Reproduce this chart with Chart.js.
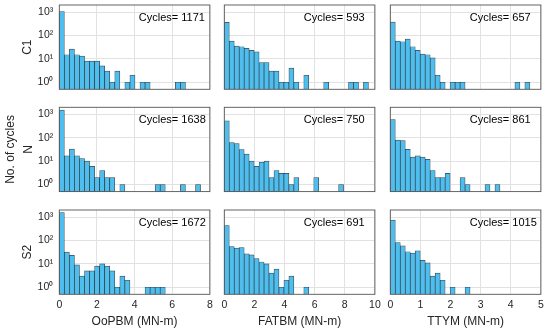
<!DOCTYPE html>
<html><head><meta charset="utf-8">
<script src="https://cdn.jsdelivr.net/npm/chart.js@4.4.1/dist/chart.umd.min.js"></script>
<style>
html,body{margin:0;padding:0;background:#fff;}
#wrap{position:relative;width:550px;height:333px;overflow:hidden;}
#wrap canvas{position:absolute;left:0;top:0;}
</style></head><body><div id="wrap"></div>
<script>
// ---- data ----
const rowNames = ['C1', ['No. of cycles', 'N'], 'S2'];
const colNames = ['OoPBM (MN-m)', 'FATBM (MN-m)', 'TTYM (MN-m)'];
const xMax = [8, 10, 5];
const xStep = [2, 2, 1];
const binWidth = [0.268, 0.33, 0.1655];
const cycles = [[1171, 593, 657], [1638, 750, 861], [1672, 691, 1015]];
const yTickValues = [1, 10, 100, 1000];
const yTickLabels = ['10\u2070', '10\u00B9', '10\u00B2', '10\u00B3'];

const countsC1_OoPBM = [1059,15,26,15,13,8,8,8,5,3,1,3,0,1,2,0,1,1,0,0,0,0,0,1,1];
const countsC1_FATBM = [364,57,35,33,28,23,20,7,7,3,3,1,1,4,1,0,2,0,0,0,1,0,0,0,0,1,1,0,1];
const countsC1_TTYM  = [370,57,54,70,33,23,16,15,11,2,1,0,1,1,1,0,0,0,0,0,0,0,0,0,0,1,0,1];
const countsN_OoPBM  = [1527,17,33,17,13,10,6,2,4,2,2,0,1,0,0,0,0,0,0,1,1,0,0,0,1,0,0,1];
const countsN_FATBM  = [528,62,56,31,20,10,6,9,10,2,4,3,3,1,2,0,0,0,2,0,0,0,0,1];
const countsN_TTYM   = [599,80,75,32,15,17,15,12,4,2,2,3,0,0,2,1,0,0,0,1,0,1];
const countsS2_OoPBM = [1554,32,23,9,3,5,5,8,10,8,5,1,3,2,0,0,0,1,1,1,1];
const countsS2_FATBM = [432,55,47,50,27,24,17,12,10,4,6,1,2,3,0,0,1];
const countsS2_TTYM  = [740,82,59,33,29,36,14,11,3,4,2,0,1,0,0,1];

const counts = [
  [countsC1_OoPBM, countsC1_FATBM, countsC1_TTYM],
  [countsN_OoPBM, countsN_FATBM, countsN_TTYM],
  [countsS2_OoPBM, countsS2_FATBM, countsS2_TTYM]
];

// ---- layout ----
const PAGE_W = 550, PAGE_H = 333;
const plotLeft = [59.3, 224.3, 390.3];
const plotWidth = 150.6;
const plotTop = [5, 107.3, 210];
const plotHeight = 84.3;

Chart.defaults.font.family = "'Liberation Sans', Arial, Helvetica, sans-serif";
Chart.defaults.color = '#262626';

const boxPlugin = {
  id: 'box',
  afterDraw(chart) {
    const {ctx, chartArea: a} = chart;
    ctx.save();
    ctx.strokeStyle = '#555555';
    ctx.lineWidth = 0.9;
    ctx.strokeRect(a.left, a.top, a.right - a.left, a.bottom - a.top);
    ctx.restore();
  }
};
const cyclesPlugin = {
  id: 'cyc',
  afterDraw(chart, args, opts) {
    const {ctx, chartArea: a} = chart;
    ctx.save();
    ctx.font = "11px 'Liberation Sans', Arial, sans-serif";
    ctx.fillStyle = '#000';
    ctx.textAlign = 'left';
    ctx.textBaseline = 'middle';
    ctx.fillText('Cycles= ' + opts.n, a.left + 79.5, a.top + 12.5);
    ctx.restore();
  }
};

const wrap = document.getElementById('wrap');
for (let r = 0; r < 3; r++) {
  for (let c = 0; c < 3; c++) {
    const cv = document.createElement('canvas');
    cv.width = PAGE_W; cv.height = PAGE_H;
    cv.style.width = PAGE_W + 'px'; cv.style.height = PAGE_H + 'px';
    wrap.appendChild(cv);
    const yW = c === 0 ? plotLeft[0] : 0;
    const xH = r === 2 ? PAGE_H - (plotTop[2] + plotHeight) : 0;
    const bw = binWidth[c];
    const pts = counts[r][c].map((v, i) => ({x: (i + 0.5) * bw, y: v > 0 ? v : null}));
    new Chart(cv, {
      type: 'bar',
      data: {datasets: [{
        data: pts,
        backgroundColor: 'rgb(77,190,238)',
        borderColor: 'rgba(25,35,45,0.85)',
        borderWidth: 0.7,
        borderSkipped: false,
        barPercentage: 1,
        categoryPercentage: 1,
        grouped: false
      }]},
      options: {
        responsive: false,
        animation: false,
        devicePixelRatio: 1,
        layout: {padding: {
          left: plotLeft[c] - yW,
          right: PAGE_W - (plotLeft[c] + plotWidth),
          top: plotTop[r],
          bottom: PAGE_H - (plotTop[r] + plotHeight) - xH
        }},
        plugins: {legend: {display: false}, tooltip: {enabled: false}, cyc: {n: cycles[r][c]}},
        scales: {
          x: {
            type: 'linear', min: 0, max: xMax[c], offset: false,
            ticks: {stepSize: xStep[c], display: r === 2, padding: 5, maxRotation: 0, autoSkip: false,
              font: {size: 10.5}, color: '#262626'},
            grid: {offset: false, color: '#e2e2e2', lineWidth: 1, drawTicks: false},
            border: {display: false},
            title: {display: r === 2, text: colNames[c], font: {size: 12}, color: '#262626',
              padding: {top: 0, bottom: 4}},
            afterFit: s => { s.height = xH; s.paddingLeft = 0; s.paddingRight = 0; s.paddingTop = 0; s.paddingBottom = 0; }
          },
          y: {
            type: 'logarithmic', min: 0.5, max: 2000,
            afterBuildTicks: s => { s.ticks = yTickValues.map(v => ({value: v, major: false})); },
            ticks: {display: c === 0, padding: 6, font: {size: 10.5}, color: '#262626',
              callback: v => yTickLabels[yTickValues.indexOf(v)]},
            grid: {color: '#e2e2e2', lineWidth: 1, drawTicks: false},
            border: {display: false},
            title: {display: c === 0, text: rowNames[r], color: '#262626',
              font: {size: 12, lineHeight: 1.5},
              padding: {top: r === 1 ? 1.5 : 18.5, bottom: 0}},
            afterFit: s => { s.width = yW; s.paddingLeft = 0; s.paddingRight = 0; s.paddingTop = 0; s.paddingBottom = 0; }
          }
        }
      },
      plugins: [boxPlugin, cyclesPlugin]
    });
  }
}
</script>
</body></html>
